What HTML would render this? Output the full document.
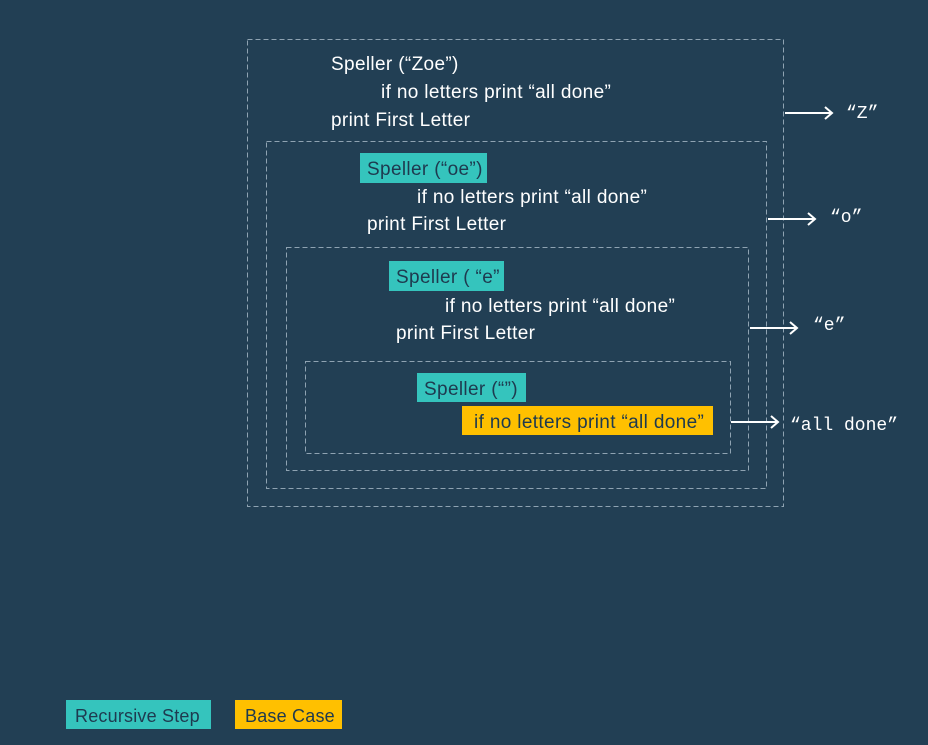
<!DOCTYPE html>
<html><head><meta charset="utf-8"><style>
html,body{margin:0;padding:0;background:#223f54;}
svg{display:block}
text{font-family:"Liberation Sans",sans-serif;font-size:19px;letter-spacing:0.35px;fill:#fff}
.m{font-family:"Liberation Mono",monospace;font-size:18px;letter-spacing:0;fill:#fff}
.d{fill:#1e3a4f}
.l{font-size:18px;letter-spacing:0.2px}
</style></head><body>
<svg width="928" height="745" viewBox="0 0 928 745" xmlns="http://www.w3.org/2000/svg">
<rect width="928" height="745" fill="#223f54"/>
<g fill="none" stroke="#8fa3b2" stroke-width="1" stroke-dasharray="5,3">
<rect x="247.5" y="39.5" width="536" height="467"/>
<rect x="266.5" y="141.5" width="500" height="347"/>
<rect x="286.5" y="247.5" width="462" height="223"/>
<rect x="305.5" y="361.5" width="425" height="92"/>
</g>
<text x="331" y="70">Speller (“Zoe”)</text>
<text x="381" y="98">if no letters print “all done”</text>
<text x="331" y="126">print First Letter</text>

<rect x="360" y="153" width="127" height="30" fill="#35c4bd"/>
<text x="367" y="175" class="d">Speller (“oe”)</text>
<text x="417" y="203">if no letters print “all done”</text>
<text x="367" y="230">print First Letter</text>

<rect x="389" y="261" width="115" height="30" fill="#35c4bd"/>
<svg x="389" y="261" width="115" height="30" overflow="hidden"><text x="7" y="22" class="d">Speller (  “e”</text></svg>
<text x="445" y="312">if no letters print “all done”</text>
<text x="396" y="339">print First Letter</text>

<rect x="417" y="373" width="109" height="29" fill="#35c4bd"/>
<text x="424" y="395" class="d">Speller (“”)</text>
<rect x="462" y="406" width="251" height="29" fill="#ffc000"/>
<text x="474" y="428" class="d">if no letters print “all done”</text>

<g stroke="#fff" stroke-width="2" fill="none">
<path d="M785 113H832M825 107L832 113L825 119"/>
<path d="M768 219H815M808 213L815 219L808 225"/>
<path d="M750 328H797M790 322L797 328L790 334"/>
<path d="M731 422H778M771 416L778 422L771 428"/>
</g>
<text class="m" x="846" y="118">“Z”</text>
<text class="m" x="830" y="222">“o”</text>
<text class="m" x="813" y="330">“e”</text>
<text class="m" x="790" y="430">“all done”</text>

<rect x="66" y="700" width="145" height="29" fill="#35c4bd"/>
<text x="75" y="722" class="d l">Recursive Step</text>
<rect x="235" y="700" width="107" height="29" fill="#ffc000"/>
<text x="245" y="722" class="d l">Base Case</text>
</svg>
</body></html>
